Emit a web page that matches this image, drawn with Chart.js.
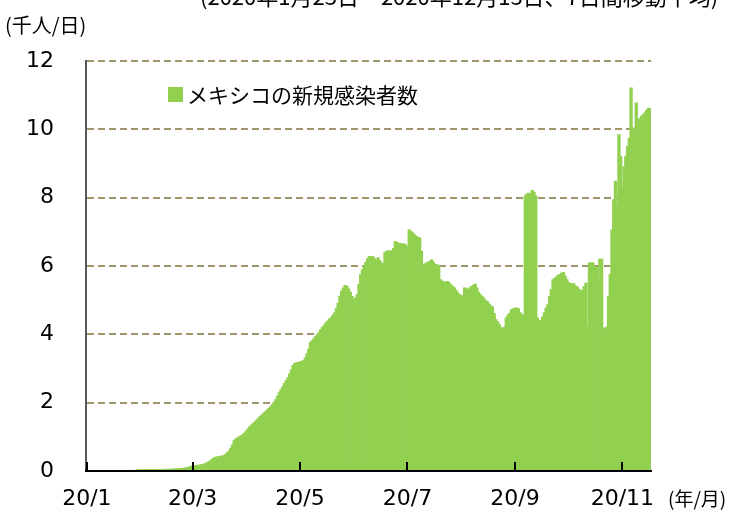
<!DOCTYPE html>
<html lang="ja">
<head>
<meta charset="utf-8">
<title>メキシコの新規感染者数</title>
<script src="https://cdn.jsdelivr.net/npm/chart.js@4.4.0/dist/chart.umd.min.js"></script>
<style>
  body { margin: 0; background: #fff; }
  #wrap { position: relative; width: 736px; height: 518px; overflow: hidden; }
  #wrap canvas { position: absolute; left: 0; top: 0; }
  .note {
    position: absolute;
    font-family: "Noto Sans CJK JP", sans-serif;
    color: #000;
    white-space: nowrap;
    line-height: 1;
  }
</style>
</head>
<body>
<div id="wrap">
  <canvas id="casesChart" width="736" height="518"></canvas>
  <div class="note" style="left:200px; top:-16px; font-size:22px;">(2020年1月23日～2020年12月13日、7日間移動平均)</div>
  <div class="note" style="left:5px; top:15px; font-size:20px;">(千人/日)</div>
  <div class="note" style="left:668px; top:488px; font-size:19px;">(年/月)</div>
</div>
<script>
// Mexico - new infections, 7-day moving average (thousand / day)
// one value per day, starting 2020-01-23

const startDate = '2020-01-23';

const dailyCases = [
  0, 0, 0, 0, 0, 0, 0, 0, 0, 0,
  0, 0, 0, 0, 0, 0, 0, 0, 0, 0,
  0, 0, 0, 0, 0, 0, 0, 0, 0, 0.02,
  0.02, 0.02, 0.02, 0.02, 0.02, 0.02, 0.02, 0.03, 0.03, 0.03,
  0.03, 0.03, 0.03, 0.03, 0.03, 0.03, 0.04, 0.04, 0.04, 0.04,
  0.05, 0.05, 0.05, 0.06, 0.06, 0.07, 0.07, 0.08, 0.09, 0.1,
  0.12, 0.14, 0.15, 0.15, 0.16, 0.16, 0.17, 0.18, 0.2, 0.22,
  0.25, 0.28, 0.32, 0.36, 0.39, 0.4, 0.41, 0.42, 0.43, 0.44,
  0.47, 0.52, 0.57, 0.65, 0.75, 0.88, 0.93, 0.96, 0.99, 1.02,
  1.05, 1.1, 1.16, 1.22, 1.28, 1.33, 1.38, 1.43, 1.48, 1.53,
  1.58, 1.63, 1.68, 1.72, 1.77, 1.82, 1.87, 1.93, 2.0, 2.08,
  2.18, 2.28, 2.37, 2.46, 2.55, 2.64, 2.72, 2.83, 2.95, 3.08,
  3.14, 3.16, 3.17, 3.18, 3.2, 3.22, 3.3, 3.42, 3.55, 3.75,
  3.8, 3.86, 3.93, 3.98, 4.05, 4.13, 4.2, 4.26, 4.33, 4.38,
  4.44, 4.48, 4.55, 4.62, 4.75, 4.9, 5.1, 5.25, 5.35, 5.42,
  5.4, 5.32, 5.22, 5.1, 5.0, 5.05, 5.15, 5.45, 5.74, 5.88,
  5.98, 6.1, 6.2, 6.27, 6.25, 6.27, 6.2, 6.13, 6.23, 6.15,
  6.08, 6.03, 6.38, 6.42, 6.44, 6.4, 6.44, 6.5, 6.71, 6.68,
  6.64, 6.65, 6.62, 6.64, 6.6, 6.56, 7.05, 7.0, 6.96, 6.9,
  6.86, 6.83, 6.81, 6.42, 5.98, 6.05, 6.08, 6.1, 6.13, 6.17,
  6.1, 6.03, 6.03, 6.0, 5.59, 5.55, 5.51, 5.52, 5.54, 5.5,
  5.44, 5.4, 5.35, 5.28, 5.2, 5.15, 5.12, 5.12, 5.35, 5.32,
  5.3, 5.35, 5.39, 5.42, 5.46, 5.35, 5.22, 5.15, 5.1, 5.05,
  4.98, 4.95, 4.88, 4.83, 4.79, 4.6, 4.42, 4.35, 4.27, 4.18,
  4.15, 4.2, 4.47, 4.55, 4.6, 4.71, 4.74, 4.76, 4.76, 4.74,
  4.62, 4.57, 4.52, 8.05, 8.1, 8.12, 8.1, 8.2, 8.15, 8.05,
  4.47, 4.4, 4.37, 4.5, 4.62, 4.76, 4.86, 5.1, 5.3, 5.59,
  5.63, 5.67, 5.72, 5.74, 5.78, 5.8, 5.7, 5.59, 5.5, 5.47,
  5.47, 5.47, 5.4, 5.38, 5.3, 5.28, 5.25, 5.39, 5.49, 4.22,
  6.08, 6.08, 6.08, 5.98, 5.95, 5.59, 6.19, 6.19, 4.18, 4.03,
  4.2, 5.1, 5.74, 7.05, 7.93, 8.47, 7.73, 9.83, 9.2, 8.32,
  8.9, 9.2, 9.49, 9.73, 11.2, 9.98, 10.03, 10.76, 10.18, 10.3,
  10.37, 10.42, 10.47, 10.55, 10.61, 10.6
];

// x-axis: which day (index into dailyCases) carries a tick, and its label
const tickIndex = [0, 61, 123, 185, 247, 309];
const tickLabels = ['20/1', '20/3', '20/5', '20/7', '20/9', '20/11'];

const yTicks = [0, 2, 4, 6, 8, 10, 12];

const seriesName = 'メキシコの新規感染者数';
const barColor = '#92d050';

// one category label per day
const dayLabels = [];
(function () {
  const d = new Date(startDate + 'T00:00:00Z');
  for (let i = 0; i < dailyCases.length; i++) {
    dayLabels.push(d.toISOString().slice(0, 10));
    d.setUTCDate(d.getUTCDate() + 1);
  }
})();

// legend sits inside the plot area, top-left
const innerLegend = {
  id: 'innerLegend',
  afterDraw(chart) {
    const ctx = chart.ctx;
    const area = chart.chartArea;
    const x = area.left + 82;
    const y = area.top + 34;
    ctx.save();
    ctx.fillStyle = barColor;
    ctx.fillRect(x, y - 8, 15, 15);
    ctx.fillStyle = '#000';
    ctx.font = '21px "Noto Sans CJK JP", sans-serif';
    ctx.textBaseline = 'middle';
    ctx.fillText(seriesName, x + 19, y);
    ctx.restore();
  }
};

new Chart(document.getElementById('casesChart').getContext('2d'), {
  type: 'bar',
  data: {
    labels: dayLabels,
    datasets: [
      {
        label: seriesName,
        data: dailyCases,
        backgroundColor: barColor,
        borderWidth: 0,
        inflateAmount: 0.8,
        barPercentage: 1,
        categoryPercentage: 1
      }
    ]
  },
  options: {
    responsive: false,
    animation: false,
    layout: { padding: { top: 61, right: 85, left: 0, bottom: 0 } },
    plugins: {
      legend: { display: false },
      tooltip: { enabled: false }
    },
    scales: {
      x: {
        afterFit(scale) { scale.height = 47; },
        afterBuildTicks(scale) {
          scale.ticks = tickIndex.map((i) => ({ value: i }));
        },
        grid: {
          offset: false,
          drawOnChartArea: false,
          tickLength: -9,
          color: '#000',
          lineWidth: 2,
          z: 1
        },
        border: { color: '#000', width: 2, z: 1 },
        ticks: {
          autoSkip: false,
          maxRotation: 0,
          padding: 24,
          color: '#000',
          font: { family: '"DejaVu Sans", Verdana, sans-serif', size: 22 },
          callback: (value) => tickLabels[tickIndex.indexOf(value)]
        }
      },
      y: {
        min: 0,
        max: 12,
        afterFit(scale) { scale.width = 86; },
        afterBuildTicks(scale) {
          scale.ticks = yTicks.map((v) => ({ value: v }));
        },
        grid: {
          drawTicks: false,
          color: (c) => (c.tick && c.tick.value === 0 ? 'rgba(0,0,0,0)' : '#a0946a'),
          lineWidth: 2
        },
        border: { color: '#595959', width: 2, dash: [7, 4] },
        ticks: {
          padding: 32,
          color: '#000',
          font: { family: '"DejaVu Sans", Verdana, sans-serif', size: 22 }
        }
      }
    }
  },
  plugins: [innerLegend]
});
</script>
</body>
</html>
